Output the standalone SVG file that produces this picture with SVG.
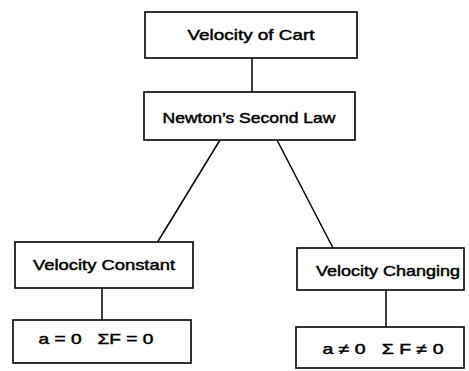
<svg xmlns="http://www.w3.org/2000/svg" width="469" height="371" viewBox="0 0 469 371">
<style>
.box{fill:#fff;stroke:#000;stroke-width:1.6}
.t{font-family:"Liberation Sans",Arial,sans-serif;font-size:14.5px;fill:#000;stroke:#000;stroke-width:0.45;text-anchor:middle;white-space:pre}
.c{stroke:#000;stroke-width:1.5;fill:none}
</style>
<rect width="469" height="371" fill="#fff"/>
<g id="connectors">
<line class="c" x1="252" y1="58" x2="252" y2="92"/>
<line class="c" x1="220" y1="140" x2="157" y2="243"/>
<line class="c" x1="277" y1="140" x2="333" y2="248"/>
<line class="c" x1="102" y1="288" x2="102" y2="320"/>
<line class="c" x1="386" y1="290" x2="386" y2="327"/>
</g>
<g id="velocity-of-cart">
<rect class="box" x="145" y="12" width="212" height="46"/>
<text class="t" x="251" y="40" textLength="127" lengthAdjust="spacingAndGlyphs">Velocity of Cart</text>
</g>
<g id="newtons-second-law">
<rect class="box" x="144" y="92" width="211" height="48"/>
<text class="t" x="249" y="123" textLength="173" lengthAdjust="spacingAndGlyphs">Newton’s Second Law</text>
</g>
<g id="velocity-constant">
<rect class="box" x="15" y="242" width="178" height="46"/>
<text class="t" x="104" y="270" textLength="142" lengthAdjust="spacingAndGlyphs">Velocity Constant</text>
</g>
<g id="a-zero">
<rect class="box" x="13" y="320" width="178" height="43"/>
<text class="t" x="96" y="344" textLength="115" lengthAdjust="spacingAndGlyphs" xml:space="preserve">a = 0   ΣF = 0</text>
</g>
<g id="velocity-changing">
<rect class="box" x="297" y="248" width="167" height="42"/>
<text class="t" x="388" y="276" textLength="144" lengthAdjust="spacingAndGlyphs">Velocity Changing</text>
</g>
<g id="a-nonzero">
<rect class="box" x="296" y="327" width="168" height="41"/>
<text class="t" x="383" y="354" textLength="121" lengthAdjust="spacingAndGlyphs" xml:space="preserve">a ≠ 0   Σ F ≠ 0</text>
</g>
</svg>
